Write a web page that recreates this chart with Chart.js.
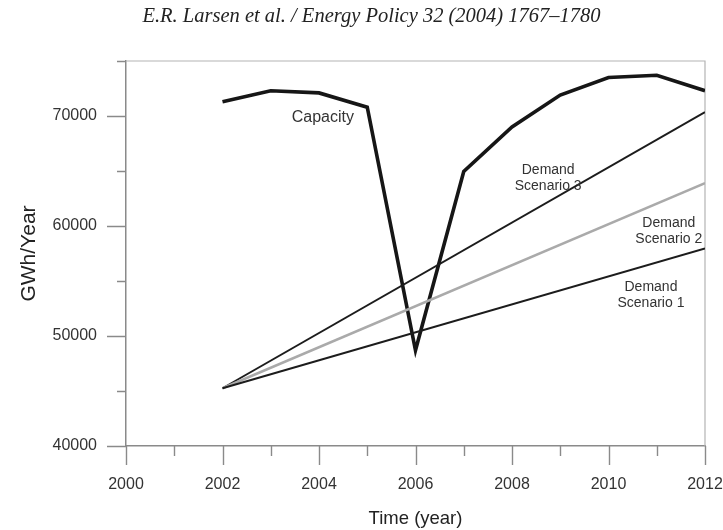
<!DOCTYPE html>
<html>
<head>
<meta charset="utf-8">
<script src="https://cdn.jsdelivr.net/npm/chart.js@4"></script>
<style>
  html, body { margin: 0; padding: 0; background: #fff; }
  #wrap { width: 723px; height: 530px; position: relative; }
</style>
</head>
<body>
<div id="wrap"><canvas id="capacityChart"></canvas></div>
<script>
"use strict";

// capacity per year (GWh/Year)
var capacityYears = [2002, 2003, 2004, 2005, 2006, 2007, 2008, 2009, 2010, 2011, 2012];
var capacityValues = [71300, 72300, 72100, 70800, 48700, 64950, 69000, 71900, 73500, 73700, 72300];

// demand scenarios are straight lines from 2002 to 2012
var demandYears = [2002, 2012];
var demandScenario1 = [45250, 57950];
var demandScenario2 = [45250, 63900];
var demandScenario3 = [45250, 70350];

var xTickYears = [2000, 2002, 2004, 2006, 2008, 2010, 2012];
var yTickValues = [40000, 50000, 60000, 70000];

var labelTexts = [["Capacity"], ["Demand", "Scenario 3"], ["Demand", "Scenario 2"], ["Demand", "Scenario 1"]];
var labelYears = [2004.08, 2008.75, 2011.25, 2010.88];
var labelValues = [69820, 64360, 59550, 53730];
var labelSizes = [16, 14, 14, 14];

var headerText = "E.R. Larsen et al. / Energy Policy 32 (2004) 1767\u20131780";

function pairs(xs, ys) {
    return xs.map(function (x, i) { return { x: x, y: ys[i] }; });
}

var axisGray = "#8a8a8a";
var sans = "'Liberation Sans', Arial, sans-serif";

var framePlugin = {
    id: "frame",
    beforeDatasetsDraw: function (chart) {
        var c = chart.ctx, a = chart.chartArea;
        var xs = chart.scales.x, ys = chart.scales.y;
        c.save();
        // running header
        c.fillStyle = "#222";
        c.font = "italic 20.5px 'Liberation Serif', 'Times New Roman', serif";
        c.textAlign = "center";
        c.textBaseline = "alphabetic";
        c.fillText(headerText, chart.width / 2 + 10, 22);

        c.strokeStyle = "#b4b4b4";
        c.lineWidth = 1.2;
        c.beginPath();
        c.moveTo(a.left, a.top);
        c.lineTo(a.right, a.top);
        c.lineTo(a.right, a.bottom);
        c.stroke();

        c.strokeStyle = axisGray;
        c.lineWidth = 1.4;
        c.beginPath();
        for (var yr = 2000; yr <= 2012; yr++) {
            var px = Math.round(xs.getPixelForValue(yr)) + 0.5;
            var len = yr % 2 === 0 ? 19 : 10;
            c.moveTo(px, a.bottom);
            c.lineTo(px, a.bottom + len);
        }
        for (var v = 40000; v <= 75000; v += 5000) {
            var py = Math.round(ys.getPixelForValue(v)) + 0.5;
            var l = v % 10000 === 0 ? 19 : 9;
            c.moveTo(a.left, py);
            c.lineTo(a.left - l, py);
        }
        c.stroke();
        c.restore();
    },
    afterDatasetsDraw: function (chart) {
        var c = chart.ctx;
        var xs = chart.scales.x, ys = chart.scales.y;
        c.save();
        c.fillStyle = "#333";
        c.textAlign = "center";
        c.textBaseline = "middle";
        labelTexts.forEach(function (lines, i) {
            c.font = labelSizes[i] + "px " + sans;
            var cx = xs.getPixelForValue(labelYears[i]);
            var cy = ys.getPixelForValue(labelValues[i]);
            var top = cy - (lines.length - 1) * 8;
            lines.forEach(function (t, j) {
                c.fillText(t, cx, top + j * 16);
            });
        });
        c.restore();
    }
};

var ctx = document.getElementById("capacityChart");
var myChart = new Chart(ctx, {
    type: "line",
    data: {
        datasets: [
            {
                label: "Demand Scenario 1",
                data: pairs(demandYears, demandScenario1),
                borderColor: "#1c1c1c",
                borderWidth: 2,
                pointRadius: 0
            },
            {
                label: "Demand Scenario 2",
                data: pairs(demandYears, demandScenario2),
                borderColor: "#aaaaaa",
                borderWidth: 2.5,
                pointRadius: 0
            },
            {
                label: "Demand Scenario 3",
                data: pairs(demandYears, demandScenario3),
                borderColor: "#1c1c1c",
                borderWidth: 2,
                pointRadius: 0
            },
            {
                label: "Capacity",
                data: pairs(capacityYears, capacityValues),
                borderColor: "#161616",
                borderWidth: 3.6,
                pointRadius: 0,
                borderJoinStyle: "miter"
            }
        ]
    },
    options: {
        responsive: true,
        maintainAspectRatio: false,
        animation: false,
        layout: { padding: { left: 0, right: 0, top: 61, bottom: 0 } },
        plugins: {
            legend: { display: false },
            tooltip: { enabled: false },
            title: { display: false }
        },
        scales: {
            x: {
                type: "linear",
                min: 2000,
                max: 2012,
                border: { color: axisGray, width: 1.5 },
                grid: { drawOnChartArea: false, tickLength: 19, tickColor: "rgba(0,0,0,0)" },
                afterBuildTicks: function (scale) {
                    scale.ticks = xTickYears.map(function (v) { return { value: v }; });
                },
                ticks: {
                    color: "#333",
                    padding: 10,
                    maxRotation: 0,
                    font: { family: sans, size: 16 },
                    callback: function (v) { return String(v); }
                },
                title: {
                    display: true,
                    text: "Time (year)",
                    color: "#222",
                    font: { family: sans, size: 18.5 },
                    padding: { top: 4, bottom: 0 }
                },
                afterFit: function (scale) {
                    scale.height = 84;
                    scale.paddingLeft = 0;
                    scale.paddingRight = 18;
                }
            },
            y: {
                type: "linear",
                min: 40000,
                max: 75000,
                border: { color: axisGray, width: 1.5 },
                grid: { drawOnChartArea: false, tickLength: 19, tickColor: "rgba(0,0,0,0)" },
                afterBuildTicks: function (scale) {
                    scale.ticks = yTickValues.map(function (v) { return { value: v }; });
                },
                ticks: {
                    color: "#333",
                    padding: 10,
                    font: { family: sans, size: 16 },
                    callback: function (v) { return String(v); }
                },
                title: {
                    display: true,
                    text: "GWh/Year",
                    color: "#222",
                    font: { family: sans, size: 21 },
                    padding: { top: 17, bottom: 0 }
                },
                afterFit: function (scale) { scale.width = 126; }
            }
        }
    },
    plugins: [framePlugin]
});
</script>
</body>
</html>
